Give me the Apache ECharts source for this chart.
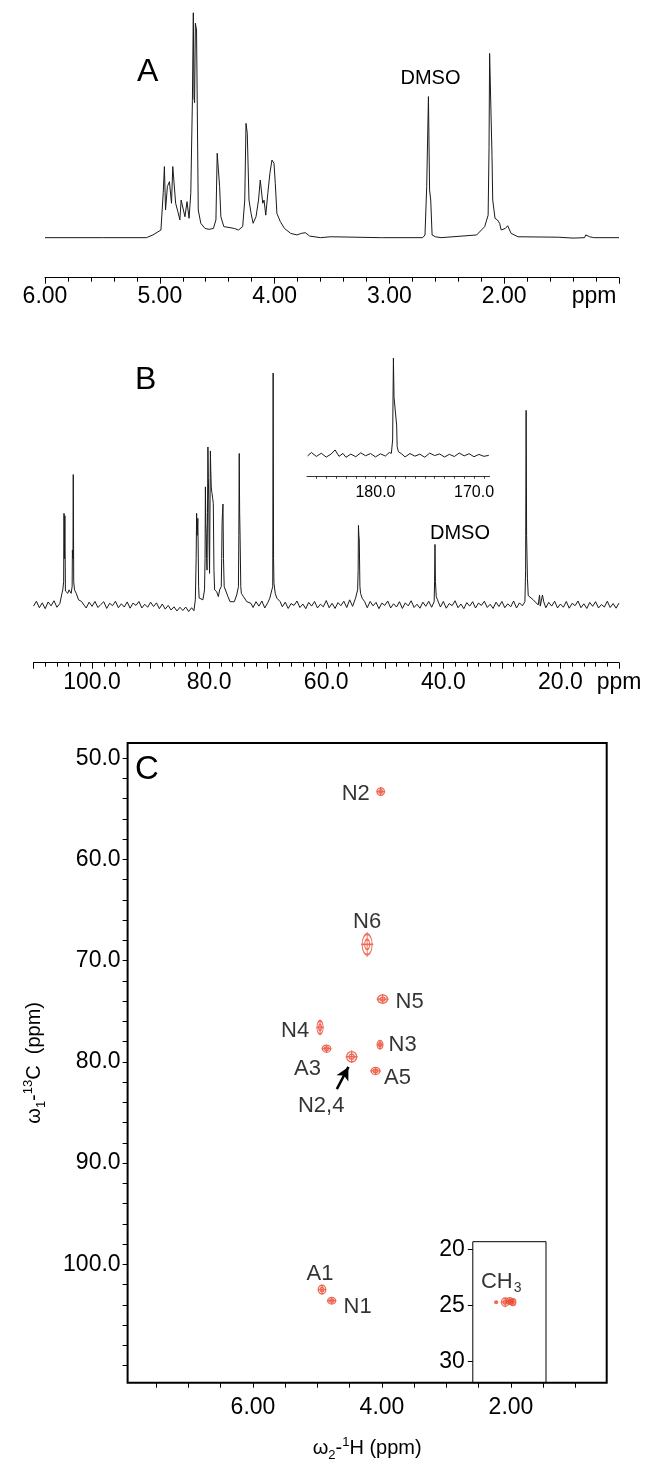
<!DOCTYPE html>
<html><head><meta charset="utf-8">
<script src="https://cdn.jsdelivr.net/npm/echarts@6/dist/echarts.min.js"></script>
<style>html,body{margin:0;padding:0;background:#fff}#c{width:648px;height:1476px}</style>
</head><body><div id="c"></div>
<script>
// ---------- DATA ----------
// Panel A: 1H spectrum [ppm, relative intensity]
const spectrumA = [[6.0,0],[5.5,0],[5.117,0],[5.06,1.2],[4.99,3.4],[4.97,20],[4.96,31.6],[4.95,12.3],[4.934,22.7],[4.916,24.9],[4.898,15.3],[4.887,31.6],[4.872,31.9],[4.862,15.3],[4.843,11.6],[4.825,7.9],[4.814,16.7],[4.80,17.5],[4.781,9.3],[4.763,16],[4.745,8.6],[4.73,19.7],[4.716,61],[4.708,100],[4.702,62],[4.697,60],[4.69,95.3],[4.68,92.3],[4.665,12.3],[4.643,6.4],[4.606,4.1],[4.57,3.7],[4.533,4.1],[4.511,7.9],[4.50,37.5],[4.489,37.5],[4.479,22.7],[4.468,9.3],[4.442,4.9],[4.406,4.6],[4.351,4.1],[4.315,3.4],[4.278,4.9],[4.26,16.7],[4.249,50.8],[4.238,46.4],[4.223,16.7],[4.205,10.8],[4.187,6.4],[4.162,9.3],[4.14,16.7],[4.125,25.6],[4.114,25.6],[4.103,15.3],[4.092,16.7],[4.077,10],[4.059,19.7],[4.041,28.6],[4.023,34.5],[4.005,33],[3.994,24.1],[3.98,10.8],[3.95,7.1],[3.914,4.1],[3.86,1.9],[3.805,1.2],[3.768,1.9],[3.732,2.2],[3.695,0.7],[3.6,0],[3.51,0.4],[3.5,0],[3.08,0],[3.07,0.4],[3.06,0],[2.71,0],[2.69,1.2],[2.675,22.7],[2.66,62.7],[2.65,21.2],[2.64,16.7],[2.628,1.2],[2.60,0.4],[2.55,0],[2.24,1.2],[2.17,4.9],[2.14,10],[2.132,40],[2.127,81.9],[2.117,81.6],[2.106,36],[2.10,16.7],[2.08,8.6],[2.06,7.9],[2.04,6.4],[2.026,3.4],[1.99,4.1],[1.97,5.3],[1.94,1.9],[1.88,0.4],[1.53,0.2],[1.40,-0.2],[1.30,0],[1.29,1.2],[1.255,0.4],[1.22,0],[1.0,0]];

// Panel B: 13C spectrum [ppm, relative intensity]
const spectrumB = [[110,-0.5],[109.5,1.6],[109,-1.2],[108.5,0.9],[108,-1.6],[107.5,1.3],[107,-0.4],[106.5,1.8],[106,-1.0],[105.5,0.6],
[105.14,5],[105.0,6.5],[104.85,10],[104.79,39.5],[104.72,20],[104.64,38.5],[104.55,6],[104.43,5.7],[104.14,5],[103.93,6.5],[103.57,5],[103.4,8],[103.36,23.7],[103.26,20],[103.21,56.2],[103.13,10],[103.0,6.5],[102.7,5],[102.3,2.2],[101.8,1.5],
[101.5,0.4],[101,-1.3],[100.5,1.2],[100,-0.6],[99.5,1.5],[99,-1.1],[98.5,0.2],[98,1.4],[97.5,-1.5],[97,0.7],[96.5,-0.3],[96,1.6],[95.5,-1.2],[95,0.5],[94.5,-0.9],[94,1.3],[93.5,-1.4],[93,0.8],[92.5,-0.2],[92,1.5],[91.5,-1.3],[91,0.3],[90.5,-1.0],[90,1.2],[89.5,-0.7],[89,0.9],[88.5,-1.6],[88,0.4],[87.5,-1.8],[87,-0.2],[86.5,-2.2],[86,-0.8],[85.5,-2.6],[85,-1.0],[84.5,-2.4],[84,-0.9],[83.5,-2.8],[83,-1.2],[82.6,-2.5],
[82.36,2.2],[82.22,20],[82.14,39.5],[82.05,30],[81.93,37.3],[81.8,8],[81.71,3],[81.43,2.9],[81.07,2.2],[80.79,6.5],[80.7,20],[80.64,50.9],[80.57,35],[80.5,30.8],[80.43,20],[80.36,15],[80.28,40],[80.21,68.1],[80.14,55],[80.07,45.2],[80.0,25],[79.93,13.6],[79.86,40],[79.79,66.4],[79.72,58],[79.64,50.9],[79.57,49],[79.5,48],[79.4,46],[79.29,43.8],[79.18,15],[79.07,6.5],[78.71,5.7],[78.43,3.6],[78.21,6.5],[77.93,7.9],[77.86,20],[77.79,35.2],[77.71,40],[77.64,43.5],[77.55,20],[77.43,7.9],[77.14,8.6],[76.79,3.6],[76.43,1.4],[75.71,1.4],[75.29,4.3],[75.0,7.9],[74.93,30],[74.86,65.3],[74.79,40],[74.71,28.7],[74.6,8],[74.5,5],[74.14,3.6],[73.57,1.4],[72.86,0.7],
[72.5,-1.1],[72,1.4],[71.5,-0.5],[71,1.7],[70.5,-1.3],[70,0.9],
[69.64,2.9],[69.29,6.5],[69.14,7.9],[69.07,100],[69.0,20],[68.93,9.3],[68.71,5],[68.43,2.9],[67.86,1.4],
[67.5,-0.8],[67,1.2],[66.5,-1.5],[66,0.6],[65.5,-0.2],[65,1.7],[64.5,-1.1],[64,0.4],[63.5,-1.6],[63,1.1],[62.5,-0.5],[62,1.5],[61.5,-1.3],[61,0.3],[60.5,-0.8],[60,1.9],[59.5,-1.2],[59,0.7],[58.5,-1.5],[58,1.0],[57.5,-0.3],[57,1.6],[56.5,-1.1],[56,2.2],[55.5,-0.6],
[55.0,2.9],[54.64,6.5],[54.55,15],[54.5,34.3],[54.43,30],[54.36,28],[54.25,8],[54.14,5],[53.86,2.9],[53.43,1.4],
[53,-1.2],[52.5,1.5],[52,-0.4],[51.5,1.1],[51,-1.6],[50.5,0.8],[50,-0.2],[49.5,1.7],[49,-1.3],[48.5,0.5],[48,-0.9],[47.5,1.4],[47,-1.5],[46.5,0.9],[46,-0.4],[45.5,1.8],[45,-1.1],[44.5,0.3],[44,-1.4],[43.5,1.2],[43,-0.6],[42.5,1.6],[42,-1.0],
[41.57,1.4],[41.5,10],[41.43,26.1],[41.35,10],[41.21,3.6],[41.0,2.2],
[40.5,-0.9],[40,1.5],[39.5,-1.4],[39,0.6],[38.5,-0.3],[38,1.8],[37.5,-1.2],[37,0.4],[36.5,-1.6],[36,1.0],[35.5,-0.5],[35,1.4],[34.5,-1.3],[34,0.8],[33.5,-0.2],[33,1.6],[32.5,-1.1],[32,0.3],[31.5,-1.5],[31,1.2],[30.5,-0.7],[30,1.5],[29.5,-1.2],[29,0.5],[28.5,-0.8],[28,1.7],[27.5,-1.3],[27,0.9],[26.5,-0.4],
[26.07,1.4],[25.95,15],[25.86,83.9],[25.78,30],[25.64,11.5],[25.5,4],[25.36,3.6],[24.64,2.2],[23.8,0],[23.57,4.3],[23.45,-0.5],[23.07,4.3],[22.86,1.4],
[22.5,-1.2],[22,1.1],[21.5,-0.5],[21,1.6],[20.5,-1.3],[20,0.4],[19.5,-1.0],[19,1.5],[18.5,-1.4],[18,0.7],[17.5,-0.3],[17,1.7],[16.5,-1.2],[16,0.5],[15.5,-1.5],[15,1.1],[14.5,-0.6],[14,1.4],[13.5,-1.3],[13,0.2],[12.5,-0.9],[12,1.6],[11.5,-1.1],[11,0.6],[10.5,-1.4],[10,0.8]];

// Panel B inset: carbonyl region
const spectrumBInset = [[186.9,-1],[186.5,2.5],[186,-1.5],[185.5,1.8],[185,-2.2],[184.5,1.0],[184.1,5.2],[183.7,-1.4],[183.3,1.6],[183,-2.4],[182.5,0.9],[182,-1.8],[181.5,2.2],[181,-0.8],[180.5,1.5],[180,-2.0],[179.5,1.2],[179,-1.1],[178.6,2.5],[178.39,1.7],[178.26,15.5],[178.18,100],[178.12,60],[178.05,58.6],[177.92,60.3],[177.85,30],[177.8,8.6],[177.67,3.4],[177.33,1.0],[177,-2.0],[176.5,1.5],[176,-1.2],[175.5,0.8],[175,-2.3],[174.5,1.9],[174,-0.6],[173.5,1.1],[173,-2.1],[172.5,0.7],[172,-1.6],[171.5,2.0],[171,-0.9],[170.5,1.3],[170,-1.8],[169.5,0.6],[169,-1.4],[168.5,-0.4]];

// Panel C: HSQC cross peaks
const hsqcNames = ['N2','N6','N5','N4','A3','N2,4','N3','A5','A1','N1'];
const hsqcH     = [4.02, 4.23, 3.99, 4.96, 4.86, 4.47, 4.03, 4.10, 4.93, 4.78];
const hsqcC     = [53.3, 68.4, 73.8, 76.6, 78.7, 79.5, 78.3, 80.9, 102.5, 103.6];
const ch3H = [2.23, 2.09, 2.02, 1.97];
const ch3C = [24.7, 24.7, 24.6, 24.7];

// annotations
const dmsoA = [2.66, 62.7];
const dmsoB = [41.43, 26.1];
const arrowTail = [4.70, 82.7];
const arrowHead = [4.52, 80.5];

// tick label values
const ticksA = [6, 5, 4, 3, 2];
const ticksB = [100, 80, 60, 40, 20];
const ticksBInset = [180, 170];
const ticksCx = [6, 4, 2];
const ticksCy = [50, 60, 70, 80, 90, 100];
const ticksCInset = [20, 25, 30];

// ---------- STYLE ----------
const F = "'Liberation Sans', Arial, Helvetica, sans-serif";
const RED = '#e8432a';
const PEAK_SYM = 'path://M1,6A5,5,0,1,1,11,6A5,5,0,1,1,1,6ZM3.5,6A2.5,2.5,0,1,1,8.5,6A2.5,2.5,0,1,1,3.5,6ZM0,6L12,6M6,0L6,12';
const peakSize = {'N2':[9,9],'N6':[12,25],'N5':[12,10],'N4':[7.5,16],'A3':[10,8.5],'N2,4':[12,12.5],'N3':[7,10],'A5':[10.5,8.5],'A1':[9,10.5],'N1':[9.5,8]};
const labelOffset = {'N2':[-25,2],'N6':[0,-22.6],'N5':[27,2.4],'N4':[-25,3.3],'A3':[-19,20],'N2,4':[-30.5,49],'N3':[22.5,0.7],'A5':[22,6.7],'A1':[-2,-15.6],'N1':[26,6.7]};
const ch3Size = [[3.5,3],[9,10],[8,8],[7,8]];

const range = (a, b, s) => { const r = []; for (let v = a; v <= b + 1e-9; v += s) r.push(+v.toFixed(3)); return r; };
const blackTick = (len) => ({show: true, length: len, lineStyle: {color: '#000', width: 1}});
const noSplit = {show: false};

const chart = echarts.init(document.getElementById('c'), null, {renderer: 'canvas'});

const hsqcData = hsqcNames.map((n, i) => ({
  name: n, value: [hsqcH[i], hsqcC[i]], symbolSize: peakSize[n],
  label: {show: true, position: 'inside', offset: labelOffset[n], formatter: n, color: '#000', fontSize: 22, fontFamily: F}
}));
const ch3Data = ch3H.map((h, i) => ({
  value: [h, ch3C[i]], symbolSize: ch3Size[i],
  label: i === 1 ? {show: true, position: 'inside', offset: [-4, -20], formatter: '{a|CH}{s|3}', color: '#000',
     rich: {a: {fontSize: 22, fontFamily: F, color: '#000', lineHeight: 26}, s: {fontSize: 14, fontFamily: F, color: '#000', lineHeight: 14, verticalAlign: 'bottom', padding: [12, 0, 0, 1]}}} : {show: false}
}));

const option = {
  animation: false,
  backgroundColor: '#fff',
  textStyle: {fontFamily: F, color: '#000'},
  grid: [
    {left: 45, top: 12.7, width: 574, height: 265},
    {left: 33.5, top: 373, width: 585.5, height: 289.7},
    {left: 307, top: 358, width: 182.5, height: 118.7},
    {left: 127.6, top: 743, width: 479.1, height: 639.7, show: true, borderColor: '#000', borderWidth: 2, backgroundColor: 'transparent'},
    {left: 472.8, top: 1241.7, width: 73.2, height: 141, show: true, borderColor: '#000', borderWidth: 1, backgroundColor: 'transparent'}
  ],
  xAxis: [
    {gridIndex: 0, type: 'value', min: 1, max: 6, inverse: true, interval: 1,
     axisLine: {onZero: false, lineStyle: {color: '#000', width: 1}}, axisTick: blackTick(6),
     minorTick: {show: true, splitNumber: 5, length: 4, lineStyle: {color: '#000'}},
     splitLine: noSplit, minorSplitLine: noSplit,
     axisLabel: {color: '#000', fontSize: 23, fontFamily: F, margin: 7, showMinLabel: true, showMaxLabel: true,
       formatter: v => v === 1 ? '{p|ppm}' : (ticksA.includes(v) ? v.toFixed(2) : ''),
       rich: {p: {fontSize: 23, fontFamily: F, color: '#000', padding: [0, 50, 0, 0]}}}},
    {gridIndex: 1, type: 'value', min: 10, max: 110, inverse: true, interval: 10,
     axisLine: {onZero: false, lineStyle: {color: '#000', width: 1}}, axisTick: blackTick(6),
     minorTick: {show: true, splitNumber: 5, length: 4, lineStyle: {color: '#000'}},
     splitLine: noSplit, minorSplitLine: noSplit,
     axisLabel: {color: '#000', fontSize: 23, fontFamily: F, margin: 8, showMinLabel: true, showMaxLabel: true,
       formatter: v => v === 10 ? 'ppm' : (ticksB.includes(v) ? v.toFixed(1) : '')}},
    {gridIndex: 2, type: 'value', min: 168.43, max: 186.95, inverse: true,
     axisLine: {onZero: false, lineStyle: {color: '#333', width: 1}},
     axisTick: {show: true, length: 2, customValues: range(169, 186, 1), lineStyle: {color: '#333'}},
     splitLine: noSplit,
     axisLabel: {color: '#000', fontSize: 16, fontFamily: F, margin: 8, customValues: ticksBInset, formatter: v => v.toFixed(1)}},
    {gridIndex: 3, type: 'value', min: 0.516, max: 7.944, inverse: true,
     axisLine: {show: false, onZero: false},
     axisTick: {show: true, length: 5, customValues: range(1, 7.5, 0.5), lineStyle: {color: '#000', width: 1}},
     splitLine: noSplit,
     axisLabel: {color: '#000', fontSize: 23, fontFamily: F, margin: 13, customValues: ticksCx, formatter: v => v.toFixed(2)},
     name: '{a|ω}{s|2}{a|-}{p|1}{a|H (ppm)}', nameLocation: 'middle', nameGap: 53,
     nameTextStyle: {color: '#000', rich: {
       a: {fontSize: 20, fontFamily: F, color: '#000', lineHeight: 26},
       s: {fontSize: 13, fontFamily: F, color: '#000', lineHeight: 13, verticalAlign: 'bottom', padding: [10, 0, 0, 0]},
       p: {fontSize: 13, fontFamily: F, color: '#000', lineHeight: 13, verticalAlign: 'top', padding: [0, 0, 8, 0]}}}},
    {gridIndex: 4, type: 'value', min: 1.457, max: 2.592, inverse: true, show: false, splitLine: noSplit}
  ],
  yAxis: [
    {gridIndex: 0, type: 'value', min: -17.8, max: 100, show: false, splitLine: noSplit},
    {gridIndex: 1, type: 'value', min: -24.9, max: 100, show: false, splitLine: noSplit},
    {gridIndex: 2, type: 'value', min: -22.4, max: 100, show: false, splitLine: noSplit},
    {gridIndex: 3, type: 'value', min: 48.5, max: 111.7, inverse: true,
     axisLine: {show: false, onZero: false},
     axisTick: {show: true, length: 5, customValues: range(50, 110, 2), lineStyle: {color: '#000', width: 1}},
     splitLine: noSplit,
     axisLabel: {color: '#000', fontSize: 23, fontFamily: F, margin: 7, customValues: ticksCy, formatter: v => v.toFixed(1)},
     name: '{a|ω}{s|1}{a|-}{p|13}{a|C  (ppm)}', nameLocation: 'middle', nameRotate: 90, nameGap: 80,
     nameTextStyle: {color: '#000', rich: {
       a: {fontSize: 20, fontFamily: F, color: '#000', lineHeight: 26},
       s: {fontSize: 13, fontFamily: F, color: '#000', lineHeight: 13, verticalAlign: 'bottom', padding: [10, 0, 0, 0]},
       p: {fontSize: 13, fontFamily: F, color: '#000', lineHeight: 13, verticalAlign: 'top', padding: [0, 0, 8, 0]}}}},
    {gridIndex: 4, type: 'value', min: 19.32, max: 31.87, inverse: true,
     axisLine: {show: false, onZero: false},
     axisTick: {show: true, length: 5, customValues: ticksCInset, lineStyle: {color: '#000', width: 1}},
     splitLine: noSplit,
     axisLabel: {color: '#000', fontSize: 23, fontFamily: F, margin: 8, customValues: ticksCInset}}
  ],
  series: [
    {type: 'line', xAxisIndex: 0, yAxisIndex: 0, data: spectrumA, symbol: 'none', lineStyle: {color: '#1a1a1a', width: 1},
     markPoint: {symbol: 'circle', symbolSize: 0, silent: true,
       label: {show: true, position: 'inside', offset: [2, -17.7], formatter: 'DMSO', color: '#000', fontSize: 20, fontFamily: F},
       data: [{coord: dmsoA}]}},
    {type: 'line', xAxisIndex: 1, yAxisIndex: 1, data: spectrumB, symbol: 'none', lineStyle: {color: '#1a1a1a', width: 1},
     markPoint: {symbol: 'circle', symbolSize: 0, silent: true,
       label: {show: true, position: 'inside', offset: [25, -11.4], formatter: 'DMSO', color: '#000', fontSize: 20, fontFamily: F},
       data: [{coord: dmsoB}]}},
    {type: 'line', xAxisIndex: 2, yAxisIndex: 2, data: spectrumBInset, symbol: 'none', lineStyle: {color: '#1a1a1a', width: 1}},
    {type: 'scatter', xAxisIndex: 3, yAxisIndex: 3, data: hsqcData, symbol: PEAK_SYM, symbolKeepAspect: false,
     itemStyle: {color: 'rgba(0,0,0,0)', borderColor: RED, borderWidth: 1.3},
     markLine: {silent: true, symbol: ['none', 'arrow'], symbolSize: [10, 13],
       lineStyle: {color: '#000', width: 2.5, type: 'solid'}, label: {show: false},
       data: [[{coord: arrowTail}, {coord: arrowHead}]]}},
    {type: 'scatter', xAxisIndex: 4, yAxisIndex: 4, data: ch3Data, symbol: PEAK_SYM, symbolKeepAspect: false,
     itemStyle: {color: 'rgba(0,0,0,0)', borderColor: RED, borderWidth: 1.3}}
  ],
  graphic: [
    {type: 'text', left: 137, top: 56, style: {text: 'A', fontSize: 32, fontFamily: F, fill: '#000'}},
    {type: 'text', left: 135, top: 364, style: {text: 'B', fontSize: 32, fontFamily: F, fill: '#000'}},
    {type: 'text', left: 135, top: 753, style: {text: 'C', fontSize: 33, fontFamily: F, fill: '#000'}}
  ]
};
chart.setOption(option);
</script></body></html>
